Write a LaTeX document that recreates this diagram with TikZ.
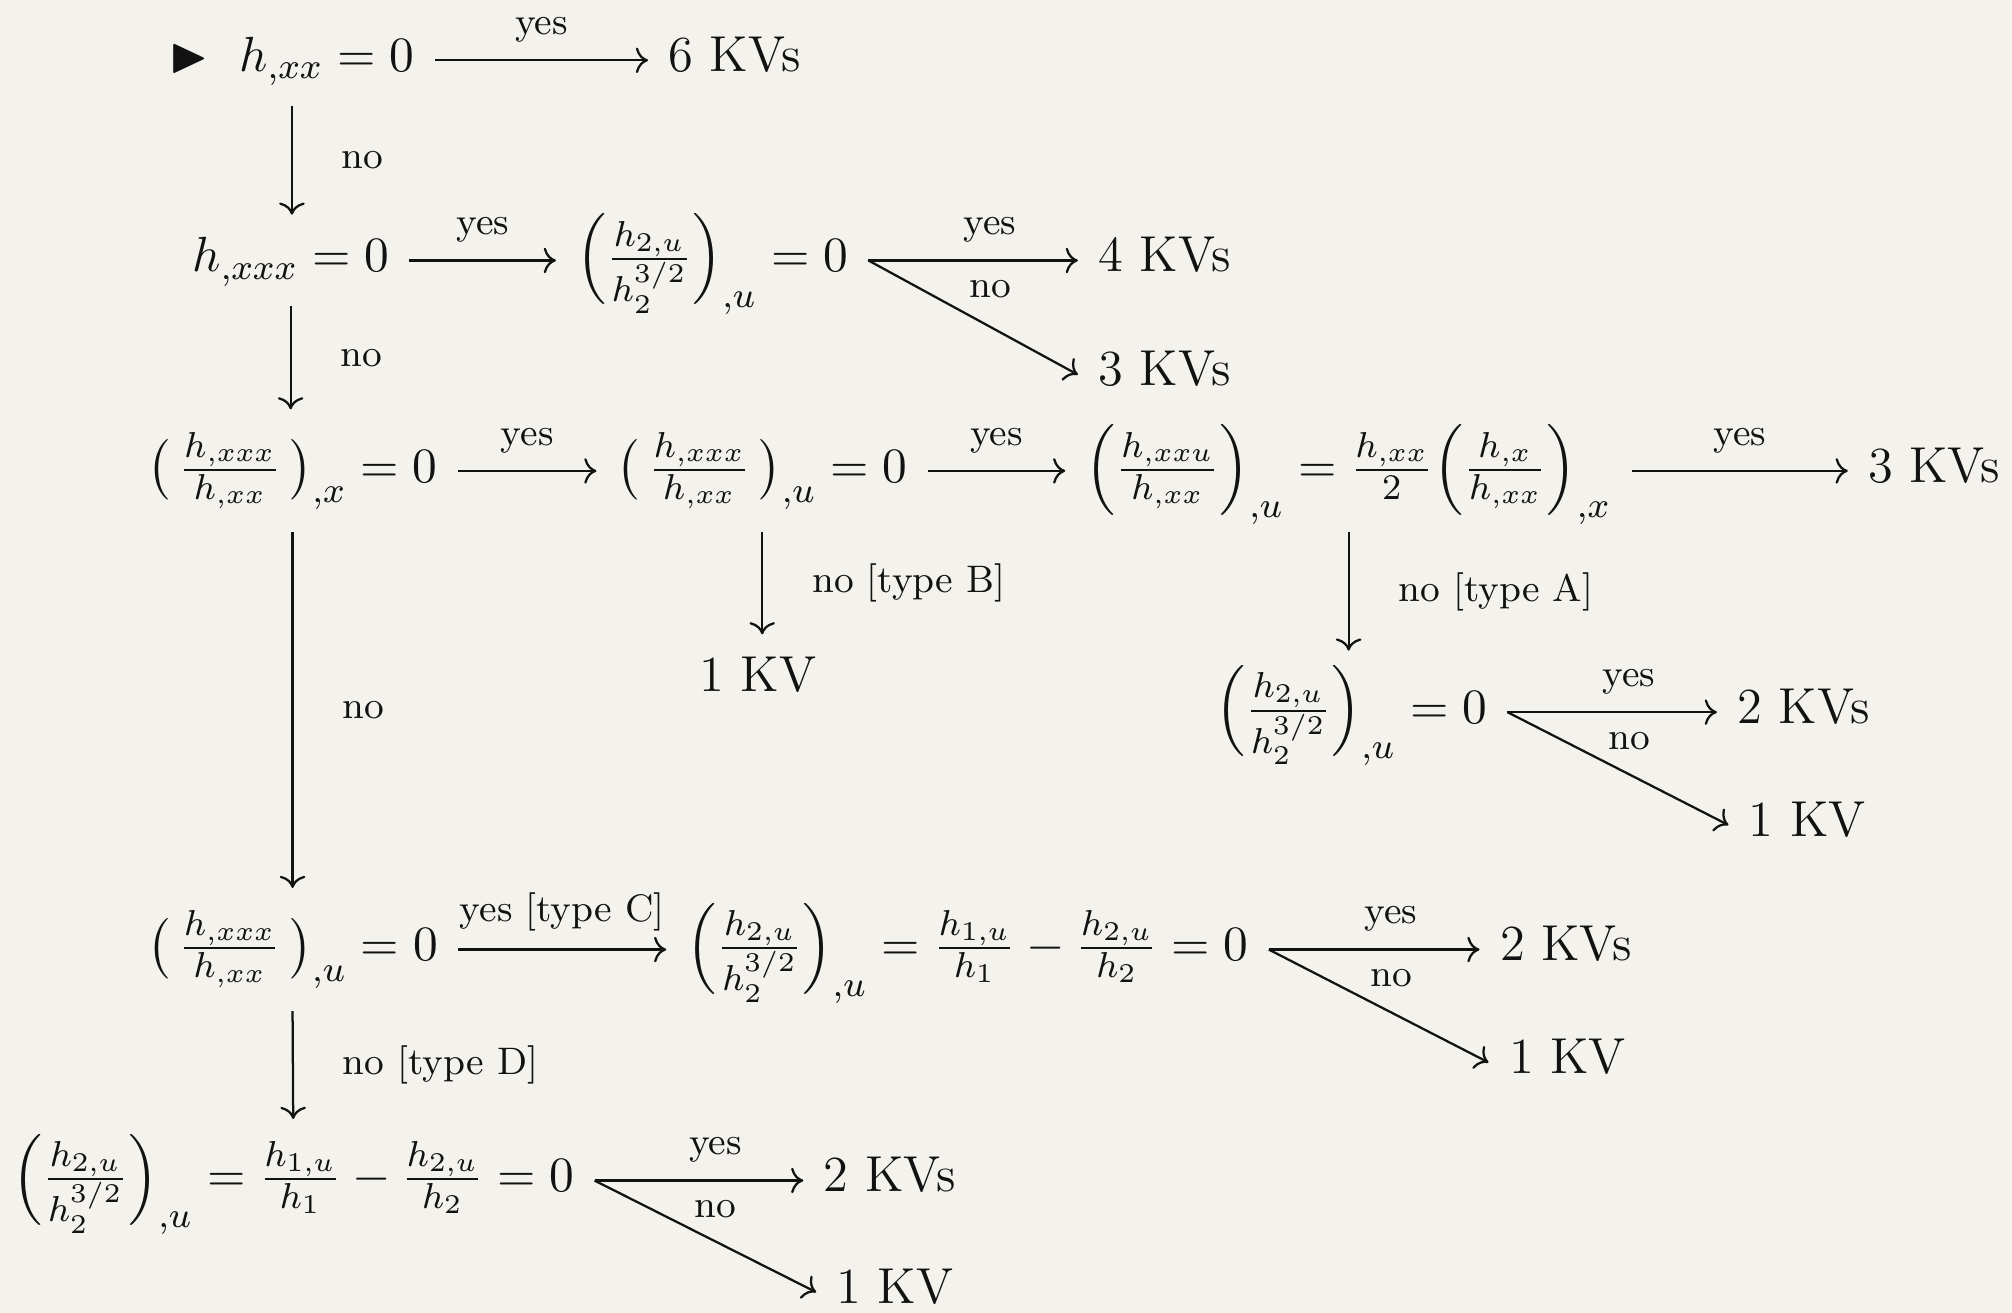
\documentclass[tikz,border=0pt]{standalone}
\usepackage{amsmath,amssymb}
\usepackage{tikz}
\usetikzlibrary{arrows.meta,positioning}
\definecolor{PaperWhite}{RGB}{244,242,237}
\definecolor{InkBlack}{RGB}{18,18,18}

\begin{document}
\begin{tikzpicture}[>=To,line width=.5pt,InkBlack,
  cond/.style={font=\fontsize{11.2}{13}\selectfont,inner xsep=4.3pt,inner ysep=2.4pt,text height=1em,text depth=.5em},
  fraccond/.style={cond,text height=1.35em,text depth=.85em},
  kv/.style={cond,anchor=west},
  lbl/.style={font=\fontsize{8.5}{10}\selectfont}]
\fill[PaperWhite] (0,0) rectangle (15.68,-10.23);
\useasboundingbox (0,0) rectangle (15.68,-10.23);

\node[cond] (hxx) at (2.275,-.47) {$\blacktriangleright$\hspace{.6em}$h_{,xx}=0$};
\node[kv] (six) at (5.05,-.47) {6 KVs};
\node[cond] (hxxx) at (2.265,-2.03) {$h_{,xxx}=0$};
\node[fraccond] (qa) at (5.55,-2.03) {$\Bigl(\frac{h_{2,u}}{h_2^{3/2}}\Bigr)_{,u}=0$};
\node[kv] (fourA) at (8.40,-2.03) {4 KVs};
\node[kv] (threeA) at (8.40,-2.92) {3 KVs};

\node[fraccond] (rx) at (2.28,-3.67) {$\bigl(\,\frac{h_{,xxx}}{h_{,xx}}\,\bigr)_{,x}=0$};
\node[fraccond] (ru) at (5.94,-3.67) {$\bigl(\,\frac{h_{,xxx}}{h_{,xx}}\,\bigr)_{,u}=0$};
\node[fraccond] (rxxu) at (10.51,-3.67) {$\Bigl(\frac{h_{,xxu}}{h_{,xx}}\Bigr)_{,u}=\frac{h_{,xx}}{2}\Bigl(\frac{h_{,x}}{h_{,xx}}\Bigr)_{,x}$};
\node[kv] (threeB) at (14.40,-3.67) {3 KVs};
\node[cond] (oneB) at (5.905,-5.30) {1 KV};
\node[fraccond] (qb) at (10.53,-5.55) {$\Bigl(\frac{h_{2,u}}{h_2^{3/2}}\Bigr)_{,u}=0$};
\node[kv] (twoA) at (13.38,-5.55) {2 KVs};
\node[kv] (oneA) at (13.47,-6.43) {1 KV};

\node[fraccond] (su) at (2.28,-7.40) {$\bigl(\,\frac{h_{,xxx}}{h_{,xx}}\,\bigr)_{,u}=0$};
\node[fraccond] (qc) at (7.54,-7.40) {$\Bigl(\frac{h_{2,u}}{h_2^{3/2}}\Bigr)_{,u}=\frac{h_{1,u}}{h_1}-\frac{h_{2,u}}{h_2}=0$};
\node[kv] (twoC) at (11.53,-7.40) {2 KVs};
\node[kv] (oneC) at (11.60,-8.28) {1 KV};
\node[fraccond] (qd) at (2.285,-9.20) {$\Bigl(\frac{h_{2,u}}{h_2^{3/2}}\Bigr)_{,u}=\frac{h_{1,u}}{h_1}-\frac{h_{2,u}}{h_2}=0$};
\node[kv] (twoD) at (6.26,-9.20) {2 KVs};
\node[kv] (oneD) at (6.36,-10.07) {1 KV};

\draw[->] (hxx.east) -- node[lbl,above=.4pt]{yes} (six.west);
\draw[->] (hxx.south) -- node[lbl,right=7.5pt]{no} (hxx.south |- hxxx.north);
\draw[->] (hxxx.east) -- node[lbl,above=.4pt]{yes} (qa.west);
\draw[->] (qa.east) -- node[lbl,above=.4pt,pos=.58]{yes} node[lbl,below=.8pt,pos=.58]{no} (fourA.west);
\draw[->] (qa.east) -- (threeA.west);
\draw[->] (hxxx.south) -- node[lbl,right=7.5pt]{no} (hxxx.south |- rx.north);

\draw[->] (rx.east) -- node[lbl,above=.4pt]{yes} (ru.west);
\draw[->] (ru.east) -- node[lbl,above=.4pt]{yes} (rxxu.west);
\draw[->] (rxxu.east) -- node[lbl,above=.4pt]{yes} (threeB.west);
\draw[->] (ru.south) -- node[lbl,right=7.5pt]{no [type B]} (ru.south |- oneB.north);
\draw[->] (rxxu.south) -- node[lbl,right=7.5pt]{no [type A]} (rxxu.south |- qb.north);
\draw[->] (qb.east) -- node[lbl,above=.4pt,pos=.58]{yes} node[lbl,below=.8pt,pos=.58]{no} (twoA.west);
\draw[->] (qb.east) -- (oneA.west);
\draw[->] (rx.south) -- node[lbl,right=7.5pt]{no} (su.north);

\draw[->] (su.east) -- node[lbl,above=.4pt]{yes [type C]} (qc.west);
\draw[->] (qc.east) -- node[lbl,above=.4pt,pos=.58]{yes} node[lbl,below=.8pt,pos=.58]{no} (twoC.west);
\draw[->] (qc.east) -- (oneC.west);
\draw[->] (su.south) -- node[lbl,right=7.5pt]{no [type D]} (qd.north);
\draw[->] (qd.east) -- node[lbl,above=.4pt,pos=.58]{yes} node[lbl,below=.8pt,pos=.58]{no} (twoD.west);
\draw[->] (qd.east) -- (oneD.west);
\end{tikzpicture}
\end{document}
